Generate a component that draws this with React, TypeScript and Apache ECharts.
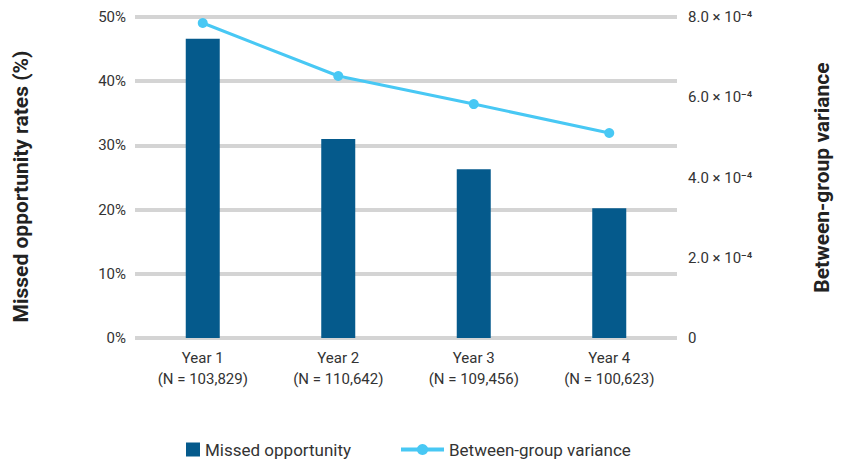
import React, { useEffect, useRef } from "react";
import * as echarts from "echarts";

const categories = ["Year 1\n(N = 103,829)", "Year 2\n(N = 110,642)", "Year 3\n(N = 109,456)", "Year 4\n(N = 100,623)"];
const missedRates = [46.6, 31.0, 26.3, 20.2];
const variance = [7.85e-4, 6.53e-4, 5.83e-4, 5.11e-4];
const leftTicks = { min: 0, max: 50, interval: 10 };
const rightTicks = { min: 0, max: 8e-4, interval: 2e-4 };

const FONT = "Roboto, 'Noto Sans', sans-serif";

export default function App() {
  const ref = useRef<HTMLDivElement>(null);
  useEffect(() => {
    if (!ref.current) return;
    const chart = echarts.init(ref.current, undefined, { renderer: "svg" });
    chart.setOption({
      animation: false,
      textStyle: { fontFamily: FONT },
      grid: { left: 135, right: 170, top: 17, bottom: 121, containLabel: false },
      legend: [
        {
          data: [{ name: "Missed opportunity", icon: "rect" }],
          left: 181,
          top: 436,
          itemWidth: 14,
          itemHeight: 14,
          itemGap: 8,
          textStyle: { fontSize: 17, color: "#333", fontFamily: FONT },
        },
        {
          data: ["Between-group variance"],
          left: 394,
          top: 436,
          itemWidth: 43,
          itemHeight: 14,
          lineStyle: { width: 4 },
          textStyle: { fontSize: 17, color: "#333", fontFamily: FONT },
        },
      ],
      xAxis: {
        type: "category",
        data: categories,
        boundaryGap: true,
        axisLine: { show: false },
        axisTick: { show: false },
        axisLabel: { color: "#333", fontSize: 15, lineHeight: 21, margin: 9, fontFamily: FONT },
      },
      yAxis: [
        {
          type: "value",
          min: leftTicks.min,
          max: leftTicks.max,
          interval: leftTicks.interval,
          name: "Missed opportunity rates (%)",
          nameLocation: "middle",
          nameRotate: 90,
          nameGap: 104,
          nameTextStyle: { fontSize: 21, fontWeight: "bold", color: "#222", fontFamily: FONT, padding: [0, 18, 0, 0] },
          axisLine: { show: false },
          axisTick: { show: false },
          axisLabel: { formatter: "{value}%", color: "#333", fontSize: 15, margin: 9, fontFamily: FONT },
          splitLine: { show: true, lineStyle: { color: "#d4d4d4", width: 4 } },
        },
        {
          type: "value",
          min: rightTicks.min,
          max: rightTicks.max,
          interval: rightTicks.interval,
          name: "Between-group variance",
          nameLocation: "middle",
          nameRotate: 90,
          nameGap: 134,
          nameTextStyle: { fontSize: 21, fontWeight: "bold", color: "#222", fontFamily: FONT },
          axisLine: { show: false },
          axisTick: { show: false },
          splitLine: { show: false },
          axisLabel: {
            color: "#333",
            fontSize: 15,
            margin: 11,
            fontFamily: FONT,
            formatter: (v: number) => (v === 0 ? "0" : (v * 1e4).toFixed(1) + " × 10⁻⁴"),
          },
        },
      ],
      series: [
        {
          name: "Missed opportunity",
          type: "bar",
          data: missedRates,
          barWidth: 34,
          itemStyle: { color: "#055a8c" },
          yAxisIndex: 0,
        },
        {
          name: "Between-group variance",
          type: "line",
          data: variance,
          yAxisIndex: 1,
          symbol: "circle",
          symbolSize: 10,
          lineStyle: { color: "#48c8f4", width: 3 },
          itemStyle: { color: "#48c8f4" },
        },
      ],
    });
    return () => chart.dispose();
  }, []);
  return <div ref={ref} style={{ width: 847, height: 459, marginLeft: -8, marginTop: -8 }} />;
}
